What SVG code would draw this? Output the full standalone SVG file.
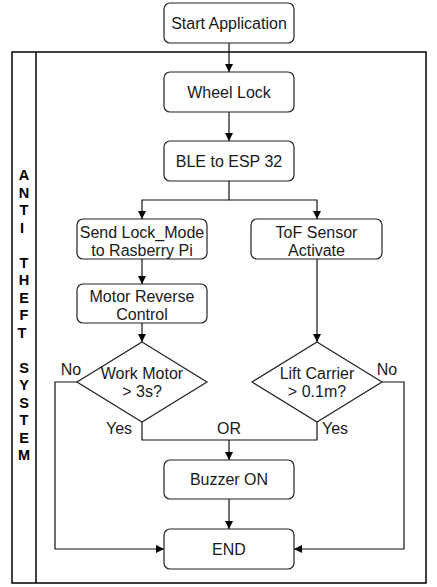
<svg xmlns="http://www.w3.org/2000/svg" width="437" height="587" viewBox="0 0 437 587">
<style>
.n{fill:#fff;stroke:#222;stroke-width:1.2}
.t{font-family:"Liberation Sans",Arial,sans-serif;font-size:16px;fill:#1a1a1a;text-anchor:middle}
.v{font-family:"Liberation Sans",Arial,sans-serif;font-size:14.5px;font-weight:bold;fill:#000;text-anchor:middle}
.e{fill:none;stroke:#111;stroke-width:1.2}
</style>
<defs>
<marker id="ah" markerWidth="10" markerHeight="10" refX="8" refY="4" orient="auto" markerUnits="userSpaceOnUse">
<path d="M0,0 L8,4 L0,8 Z" fill="#000"/>
</marker>
</defs>
<rect width="437" height="587" fill="#fff"/>
<g id="container">
<rect x="12" y="52" width="414" height="531" fill="none" stroke="#000" stroke-width="1.5"/>
<line x1="36" y1="52" x2="36" y2="583" stroke="#000" stroke-width="1.5"/>
<text class="v">
<tspan x="24" y="180">A</tspan><tspan x="24" y="197.5">N</tspan><tspan x="24" y="215">T</tspan><tspan x="24" y="232.5">I</tspan>
<tspan x="24" y="267.5">T</tspan><tspan x="24" y="285">H</tspan><tspan x="24" y="302.5">E</tspan><tspan x="24" y="320">F</tspan><tspan x="24" y="337.5">T</tspan>
<tspan x="24" y="372.5">S</tspan><tspan x="24" y="390">Y</tspan><tspan x="24" y="407.5">S</tspan><tspan x="24" y="425">T</tspan><tspan x="24" y="442.5">E</tspan><tspan x="24" y="460">M</tspan>
</text>
</g>
<g id="edges">
<line class="e" x1="229" y1="43" x2="229" y2="72" marker-end="url(#ah)"/>
<line class="e" x1="229" y1="112" x2="229" y2="141" marker-end="url(#ah)"/>
<polyline class="e" points="229,181 229,200 142,200 142,219" marker-end="url(#ah)"/>
<polyline class="e" points="229,200 317,200 317,219" marker-end="url(#ah)"/>
<line class="e" x1="142" y1="259" x2="142" y2="284" marker-end="url(#ah)"/>
<line class="e" x1="142" y1="323" x2="142" y2="342" marker-end="url(#ah)"/>
<line class="e" x1="317" y1="259" x2="317" y2="342" marker-end="url(#ah)"/>
<polyline class="e" points="142,422 142,440 317,440 317,422"/>
<line class="e" x1="229" y1="440" x2="229" y2="460" marker-end="url(#ah)"/>
<line class="e" x1="229" y1="499" x2="229" y2="529" marker-end="url(#ah)"/>
<polyline class="e" points="77,382 55,382 55,549 164,549" marker-end="url(#ah)"/>
<polyline class="e" points="382,382 404,382 404,549 294,549" marker-end="url(#ah)"/>
<text class="t" x="71" y="375">No</text>
<text class="t" x="387" y="375">No</text>
<text class="t" x="119" y="434">Yes</text>
<text class="t" x="335" y="434">Yes</text>
<text class="t" x="229" y="434">OR</text>
</g>
<g id="start"><rect class="n" x="164" y="3" width="130" height="40" rx="6"/><text class="t" x="229" y="28.5">Start Application</text></g>
<g id="wheel"><rect class="n" x="164" y="72" width="130" height="40" rx="6"/><text class="t" x="229" y="97.5">Wheel Lock</text></g>
<g id="ble"><rect class="n" x="164" y="141" width="130" height="40" rx="6"/><text class="t" x="229" y="166.5">BLE to ESP 32</text></g>
<g id="sendlock"><rect class="n" x="77" y="219" width="130" height="40" rx="6"/><text class="t" x="142" y="237.5">Send Lock_Mode</text><text class="t" x="142" y="255.5">to Rasberry Pi</text></g>
<g id="tof"><rect class="n" x="251" y="219" width="131" height="40" rx="6"/><text class="t" x="316.5" y="237.5">ToF Sensor</text><text class="t" x="316.5" y="255.5">Activate</text></g>
<g id="motor"><rect class="n" x="77" y="284" width="130" height="39" rx="6"/><text class="t" x="142" y="302">Motor Reverse</text><text class="t" x="142" y="320">Control</text></g>
<g id="workmotor"><polygon class="n" points="142,342 207,382 142,422 77,382"/><text class="t" x="142" y="378.5">Work Motor</text><text class="t" x="142" y="397">&gt; 3s?</text></g>
<g id="lift"><polygon class="n" points="317,342 382,382 317,422 252,382"/><text class="t" x="317" y="378.5">Lift Carrier</text><text class="t" x="317" y="397">&gt; 0.1m?</text></g>
<g id="buzzer"><rect class="n" x="164" y="460" width="130" height="39" rx="6"/><text class="t" x="229" y="485">Buzzer ON</text></g>
<g id="end"><rect class="n" x="164" y="529" width="130" height="40" rx="6"/><text class="t" x="229" y="554.5">END</text></g>
</svg>
